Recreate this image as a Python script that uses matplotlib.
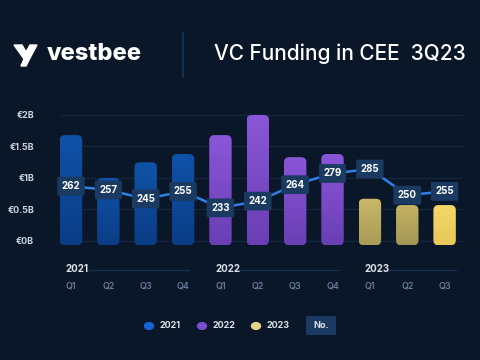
import numpy as np
import matplotlib.pyplot as plt
from matplotlib.patches import FancyBboxPatch, Polygon, Circle
from matplotlib.colors import LinearSegmentedColormap

plt.rcParams['font.family'] = ['Inter', 'DejaVu Sans']

# data
quarters = ["Q1", "Q2", "Q3", "Q4", "Q1", "Q2", "Q3", "Q4", "Q1", "Q2", "Q3"]
years = ["2021", "2022", "2023"]
year_of_bar = [0, 0, 0, 0, 1, 1, 1, 1, 2, 2, 2]
funding_bn = [1.68, 1.00, 1.25, 1.38, 1.68, 2.00, 1.33, 1.38, 0.67, 0.57, 0.57]
deal_count = [262, 257, 245, 255, 233, 242, 264, 279, 285, 250, 255]
ytick_vals = [0, 0.5, 1, 1.5, 2]
ytick_labels = ["€0B", "€0.5B", "€1B", "€1.5B", "€2B"]

bg = "#0a1729"
# top / bottom gradient colours per bar
grad = {
    0: ("#0f52a8", "#0b3d86"),
    1: ("#8a56d8", "#6a3fb4"),
}
yellow_cols = [("#c9b868", "#a89b58"), ("#c4b363", "#a49656"), ("#f3d768", "#e8c95a")]

fig = plt.figure(figsize=(4.8, 3.6), dpi=100)
fig.patch.set_facecolor(bg)

# header
fig.text(47/480, 1 - 54/360, "vestbee", color="white", fontsize=17, fontweight="heavy",
         ha="left", va="center")
logo = Polygon([[14/480, 1-45/360], [22/480, 1-45/360], [26/480, 1-52/360], [30/480, 1-45/360],
                [37/480, 1-45/360], [29/480, 1-60/360], [26/480, 1-66/360], [21/480, 1-66/360],
                [24/480, 1-59/360]], closed=True, transform=fig.transFigure, color="white")
fig.patches.append(logo)
fig.add_artist(plt.Line2D([183/480, 183/480], [1-33/360, 1-77/360], color="#16365e", lw=1.2))
fig.text(466/480, 1 - 54/360, "VC Funding in CEE  3Q23", color="white", fontsize=15,
         fontweight="medium", ha="right", va="center")

ax = fig.add_axes([52.3/480, 1 - 246/360, 411/480, (246 - 111.8)/360])
ax.set_facecolor(bg)
for s in ax.spines.values():
    s.set_visible(False)
ax.set_xticks([])
ax.set_yticks(ytick_vals)
ax.set_yticklabels(ytick_labels, color="#c9d1dd", fontsize=6.5, fontweight="bold")
ax.tick_params(axis="y", length=0, pad=13)
for v in ytick_vals:
    ax.axhline(v, xmin=0.02, color="#15263f", lw=0.9, zorder=0)

x = np.arange(len(funding_bn))
base = -0.07  # bars sit a little below the €0B line
bars = ax.bar(x, np.array(funding_bn) - base, width=0.6, bottom=base, color="none")
for i, b in enumerate(bars):
    b.set_visible(False)
    x0, y0, w, h = b.get_x(), b.get_y(), b.get_width(), b.get_height()
    patch = FancyBboxPatch((x0, y0), w, h, boxstyle="round,pad=0,rounding_size=0.14",
                           mutation_aspect=0.59, fc="none", ec="none", zorder=2)
    ax.add_patch(patch)
    if year_of_bar[i] < 2:
        top, bot = grad[year_of_bar[i]]
    else:
        top, bot = yellow_cols[i - 8]
    cmap = LinearSegmentedColormap.from_list("g", [bot, top])
    im = ax.imshow(np.linspace(0, 1, 50).reshape(-1, 1), cmap=cmap, origin="lower",
                   extent=[x0, x0 + w, y0, y0 + h], aspect="auto", zorder=2)
    im.set_clip_path(patch)

ax.set_xlim(-0.5, 10.5)
ax.set_ylim(-0.08, 2.05)

# deals line on a second scale
ax2 = ax.twinx()
ax2.set_ylim(182, 361.5)
ax2.axis("off")
ax2.plot(x, deal_count, color="#2f7fe6", lw=1.8, zorder=3)
for xi, c in zip(x, deal_count):
    ax2.text(xi, c, str(c), color="white", fontsize=7, fontweight="bold", ha="center",
             va="center", zorder=4,
             bbox=dict(boxstyle="round,pad=0.45,rounding_size=0.15", fc="#1a3a62", ec="none"))

# quarter and year labels
for xi, q in zip(x, quarters):
    ax.text(xi, -0.72, q, color="#7388a8", fontsize=6.5, ha="center", va="center",
            fontweight="medium")
year_first = [0, 4, 8]
year_end = [3.15, 7.15, 10.3]
for yi, (f, e) in enumerate(zip(year_first, year_end)):
    ax.text(f - 0.14, -0.45, years[yi], color="#dde3ec", fontsize=7, fontweight="bold",
            ha="left", va="center")
    ax.plot([f + 0.48, e], [-0.46, -0.46], color="#18304f", lw=1, clip_on=False)

# legend
leg_cols = ["#1565d6", "#7b4fcc", "#e8d48a"]
for k, (cx, tx) in enumerate([(149, 160), (202, 213), (256, 267)]):
    fig.patches.append(Circle((cx/480, 1 - 326/360), 4.5/480, transform=fig.transFigure,
                              color=leg_cols[k]))
    fig.text(tx/480, 1 - 326/360, years[k], color="#dde3ec", fontsize=6.5,
             fontweight="bold", ha="left", va="center")
fig.patches.append(FancyBboxPatch((306/480, 1 - 335/360), 30/480, 19/360,
                                  boxstyle="round,pad=0,rounding_size=0.003",
                                  transform=fig.transFigure, fc="#1a3a62", ec="none"))
fig.text(321/480, 1 - 325.5/360, "No.", color="#dde3ec", fontsize=6.5, fontweight="bold",
         ha="center", va="center")

fig.savefig("out.png", dpi=100, facecolor=bg)
